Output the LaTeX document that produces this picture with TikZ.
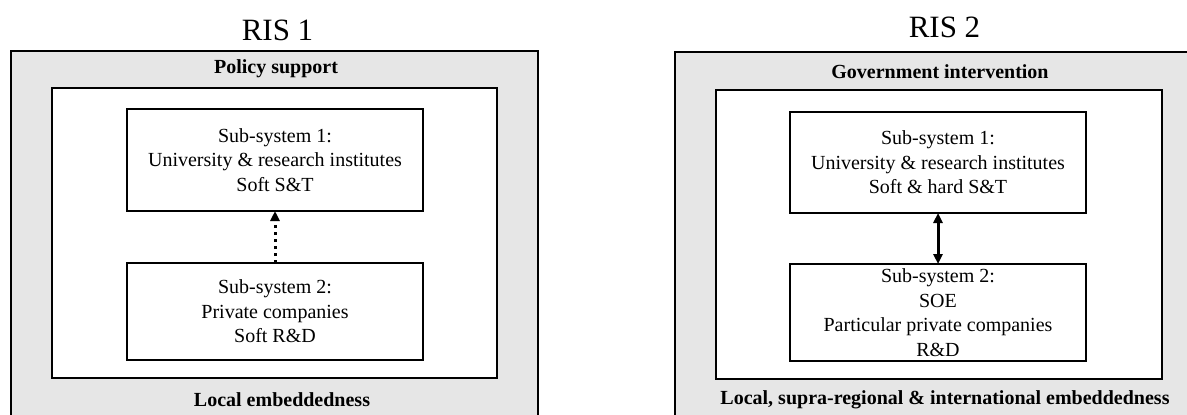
\documentclass[tikz,border=0pt]{standalone}
\usepackage{fontspec}
\setmainfont{Liberation Serif}
\usetikzlibrary{arrows.meta}
\definecolor{panelgray}{HTML}{E6E6E6}
\begin{document}
\begin{tikzpicture}[x=1pt,y=-1pt,
  >={Triangle[length=10pt,width=9pt]},
  outerbox/.style={draw, line width=2.6pt, fill=panelgray, anchor=north west, inner sep=0pt, outer sep=0pt},
  innerbox/.style={draw, line width=2.4pt, fill=white, anchor=north west, inner sep=0pt, outer sep=0pt},
  subbox/.style={draw, line width=2.4pt, fill=white, inner sep=0pt, outer sep=0pt, minimum width=296pt, align=center, font=\fontsize{20}{24.5}\selectfont},
  lab/.style={font=\fontsize{20}{24}\selectfont\bfseries, inner sep=0pt},
  ttl/.style={font=\fontsize{31}{36}\selectfont, inner sep=0pt, anchor=base}]
\useasboundingbox (0,0) rectangle (1187,415);
% RIS 1
\node[ttl] (t1) at (277.5,40) {RIS 1};
\node[outerbox, minimum width=527pt, minimum height=400pt] (o1) at (11,51) {};
\node[innerbox, minimum width=445pt, minimum height=290pt] (i1) at (52,88) {};
\node[lab] (p1) at (276,69) {Policy support};
\node[lab] (e1) at (282,400) {Local embeddedness};
\node[subbox, minimum height=102pt] (a1) at (275,160) {Sub-system 1:\\University \& research institutes\\Soft S\&T};
\node[subbox, minimum height=97pt] (b1) at (275,311.5) {Sub-system 2:\\Private companies\\Soft R\&D};
\draw[line width=3pt, dash pattern=on 3pt off 4pt, ->] (b1.north) -- (a1.south);
% RIS 2
\node[ttl] (t2) at (944.5,37) {RIS 2};
\node[outerbox, minimum width=530pt, minimum height=400pt] (o2) at (675,52) {};
\node[innerbox, minimum width=446pt, minimum height=289pt] (i2) at (716,90) {};
\node[lab] (p2) at (940,72) {Government intervention};
\node[lab] (e2) at (945,400) {Local, supra-regional \& international embeddedness};
\node[subbox, minimum height=101pt] (a2) at (938,162.5) {Sub-system 1:\\University \& research institutes\\Soft \& hard S\&T};
\node[subbox, minimum height=97pt] (b2) at (938,312.5) {Sub-system 2:\\SOE\\Particular private companies\\R\&D};
\draw[line width=3pt, <->] (b2.north) -- (a2.south);
\end{tikzpicture}
\end{document}
